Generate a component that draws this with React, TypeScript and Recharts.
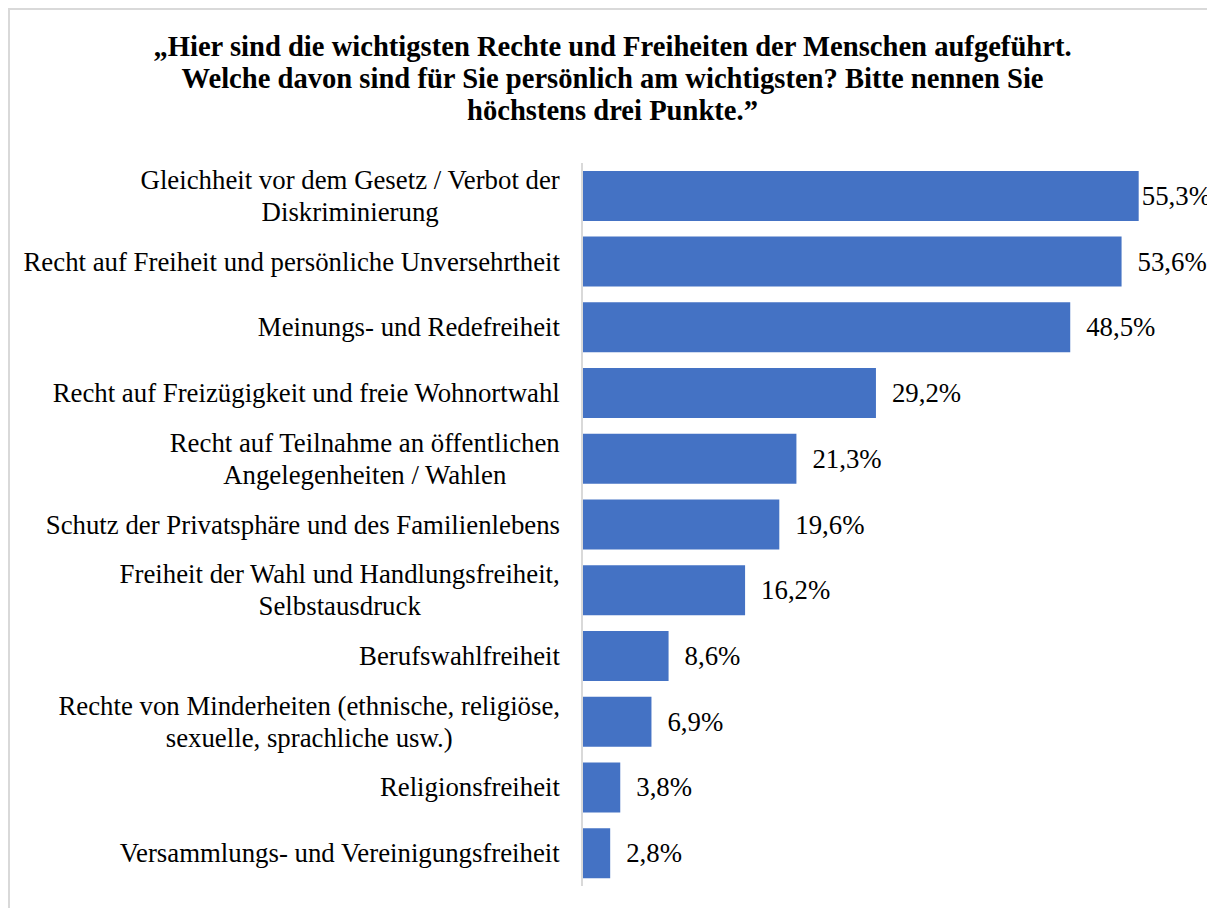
import React from "react";
import { BarChart, Bar, XAxis, YAxis, LabelList } from "recharts";

const categories = [
  "Gleichheit vor dem Gesetz / Verbot der\nDiskriminierung",
  "Recht auf Freiheit und persönliche Unversehrtheit",
  "Meinungs- und Redefreiheit",
  "Recht auf Freizügigkeit und freie Wohnortwahl",
  "Recht auf Teilnahme an öffentlichen\nAngelegenheiten / Wahlen",
  "Schutz der Privatsphäre und des Familienlebens",
  "Freiheit der Wahl und Handlungsfreiheit,\nSelbstausdruck",
  "Berufswahlfreiheit",
  "Rechte von Minderheiten (ethnische, religiöse,\nsexuelle, sprachliche usw.)",
  "Religionsfreiheit",
  "Versammlungs- und Vereinigungsfreiheit",
];
const values = [55.3, 53.6, 48.5, 29.2, 21.3, 19.6, 16.2, 8.6, 6.9, 3.8, 2.8];

const titleLines = [
  "„Hier sind die wichtigsten Rechte und Freiheiten der Menschen aufgeführt.",
  "Welche davon sind für Sie persönlich am wichtigsten? Bitte nennen Sie",
  "höchstens drei Punkte.”",
];

const data = categories.map((c, i) => ({ name: c, value: values[i] }));

const FONT = "Liberation Serif";
const FS = 26.8;

let ctx: CanvasRenderingContext2D | null = null;
const measure = (s: string) => {
  if (!ctx) {
    ctx = document.createElement("canvas").getContext("2d");
    if (ctx) ctx.font = `${FS}px "${FONT}"`;
  }
  return ctx ? ctx.measureText(s).width : s.length * 11;
};

const fmt = (v: number) => v.toFixed(1).replace(".", ",") + "%";

const CategoryTick = ({ x, y, payload }: any) => {
  const lines = String(payload.value).split("\n");
  const maxW = Math.max(...lines.map(measure));
  const cx = x - maxW / 2;
  return (
    <g>
      {lines.map((l, i) => (
        <text
          key={i}
          x={cx}
          y={y + (i - (lines.length - 1) / 2) * 32}
          textAnchor="middle"
          dominantBaseline="central"
          style={{ fontFamily: FONT, fontSize: FS }}
          fill="#000"
        >
          {l}
        </text>
      ))}
    </g>
  );
};

const ValueLabel = ({ x, y, width, height, value }: any) => {
  const txt = fmt(value);
  const tx = Math.min(x + width + 16, 1201 - measure(txt));
  return (
    <text
      x={tx}
      y={y + height / 2}
      dominantBaseline="central"
      style={{ fontFamily: FONT, fontSize: FS }}
      fill="#000"
    >
      {txt}
    </text>
  );
};

export default function App() {
  return (
    <div
      style={{
        position: "relative",
        width: 1205,
        height: 898,
        borderTop: "2px solid #d9d9d9",
        borderLeft: "2px solid #d9d9d9",
        background: "#fff",
      }}
    >
      <div
        style={{
          position: "absolute",
          top: 21,
          left: 0,
          width: 1205,
          textAlign: "center",
          fontFamily: FONT,
          fontWeight: "bold",
          fontSize: 28.6,
          lineHeight: "32px",
          color: "#000",
        }}
      >
        {titleLines.map((t, i) => (
          <div key={i}>{t}</div>
        ))}
      </div>
      <BarChart
        width={1205}
        height={898}
        data={data}
        layout="vertical"
        margin={{ top: 153, right: 29, bottom: 22, left: 0 }}
        barCategoryGap="12%"
      >
        <XAxis type="number" domain={[0, 60]} hide />
        <YAxis
          type="category"
          dataKey="name"
          width={572}
          tickLine={false}
          tickSize={0}
          tickMargin={22}
          axisLine={{ stroke: "#d9d9d9", strokeWidth: 2 }}
          tick={<CategoryTick />}
          interval={0}
        />
        <Bar dataKey="value" fill="#4472C4" isAnimationActive={false}>
          <LabelList dataKey="value" content={<ValueLabel />} />
        </Bar>
      </BarChart>
    </div>
  );
}
